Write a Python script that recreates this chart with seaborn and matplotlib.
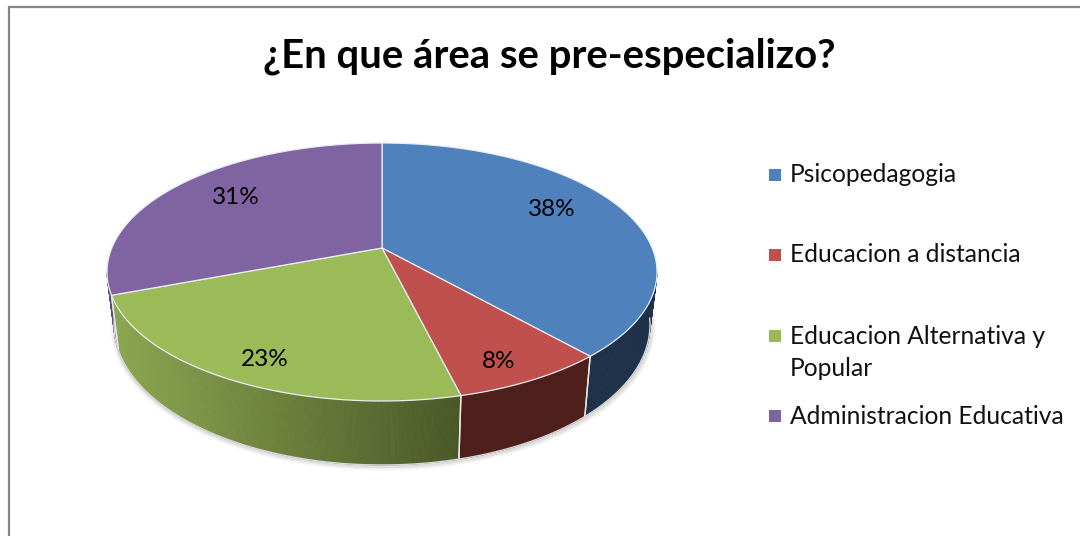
import numpy as np
import matplotlib
matplotlib.use("Agg")
import matplotlib.pyplot as plt
from matplotlib.colors import to_rgb
import seaborn as sns

title = "¿En que área se pre-especializo?"
categories = ["Psicopedagogia", "Educacion a distancia", "Educacion Alternativa y", "Administracion Educativa"]
category_extra_line = "Popular"
values = [10, 2, 6, 8]
top_colors = ["#4f81bd", "#c0504d", "#9bbb59", "#8064a2"]
wall_left = ["#1d3149", "#4f1f1c", "#8ba550", "#5e4a7c"]
wall_right = ["#1d3149", "#4f1f1c", "#4a5827", "#5e4a7c"]
label_xy = [(552, 209), (499, 361), (265, 359), (236, 197)]
legend_y = [175, 255, 336, 416]
extra_line_y = 368

sns.set_theme(style="white")
plt.rcParams["font.family"] = ["Lato", "DejaVu Sans"]
palette = sns.color_palette(top_colors)

fig = plt.figure(figsize=(10.8, 5.36), dpi=100, facecolor="white")
ax = fig.add_axes([0, 0, 1, 1])
ax.set_xlim(0, 1080)
ax.set_ylim(536, 0)
ax.axis("off")

# Top ellipse, bottom ellipse and perspective apex (px)
CX, CY, RX, RY = 382, 272, 275, 129
BY, BRX, BRY = 325, 268, 140
A = -24 / 129


def top_uv(theta):
    x, y = np.sin(theta), -np.cos(theta)
    d = 1 + A * y
    return x * np.sqrt(1 - A ** 2) / d, (y + A) / d


def top_xy(theta):
    u, v = top_uv(theta)
    return CX + RX * u, CY + RY * v


def uv_phi(theta):
    u, v = top_uv(theta)
    return np.arctan2(v, u)


edges = np.cumsum([0] + values) / sum(values) * 2 * np.pi

# soft shadow below the wall
ph = np.linspace(-0.05, np.pi + 0.05, 300)
for lw, al in [(7, 0.04), (5, 0.06), (3, 0.10)]:
    ax.plot(CX + BRX * np.cos(ph) + 1, BY + BRY * np.sin(ph) + 1, color="#555555", lw=lw, alpha=al, zorder=1)

# side walls
for i in range(len(values)):
    t0, t1 = edges[i], edges[i + 1]
    ts = np.linspace(t0, t1, 220)
    phis = uv_phi(ts)
    phis = np.where(phis < -np.pi / 2, phis + 2 * np.pi, phis)
    vis = (phis >= 0) & (phis <= np.pi)
    ts, phis = ts[vis], np.sort(phis[vis])
    if len(phis) < 2:
        continue
    c0, c1 = np.array(to_rgb(wall_left[i])), np.array(to_rgb(wall_right[i]))
    for a, b in zip(phis[:-1], phis[1:]):
        xt = CX + RX * np.cos([a, b])
        yt = CY + RY * np.sin([a, b])
        xb = CX + (BRX / RX) * (xt - CX)
        yb = BY + BRY * np.sin([a, b])
        f = np.clip((xt.mean() - 115) / (458 - 115), 0, 1)
        col = c0 + (c1 - c0) * f
        ax.fill([xt[0], xt[1], xb[1], xb[0]], [yt[0], yt[1], yb[1], yb[0]],
                facecolor=col, edgecolor=col, lw=0.6, zorder=2)
    # separators between walls
    for p in (phis[0], phis[-1]):
        if 0.02 < p < np.pi - 0.02:
            ax.plot([CX + RX * np.cos(p), CX + BRX * np.cos(p)],
                    [CY + RY * np.sin(p), BY + BRY * np.sin(p)],
                    color="#e6e6e6", lw=1.0, zorder=3)

# wall outer edge
ax.plot(CX + BRX * np.cos(ph), BY + BRY * np.sin(ph), color="#d9d9d9", lw=1.0, zorder=3)

# top faces
for i in range(len(values)):
    ts = np.linspace(edges[i], edges[i + 1], 200)
    x, y = top_xy(ts)
    cx, cy = CX, CY + RY * A
    ax.fill(np.r_[cx, x], np.r_[cy, y], facecolor=palette[i], edgecolor="#e9edf2", lw=0.9, zorder=4, joinstyle="round")

# percentage labels
for v, (lx, ly) in zip(values, label_xy):
    ax.text(lx, ly, f"{round(100 * v / sum(values))}%", ha="center", va="center",
            fontsize=17.5, color="black", zorder=6)

# title
ax.text(549.5, 56, title, ha="center", va="center", fontsize=28.8, fontweight="bold", color="black")

# legend
marker_y = [175, 255, 336, 416]
for name, col, ly, my in zip(categories, palette, legend_y, marker_y):
    ax.scatter([775], [my], marker="s", s=78, color=col, edgecolor="none", zorder=6)
    ax.text(790, ly, name, ha="left", va="center", fontsize=17.7, color="#111111")
ax.text(790, extra_line_y, category_extra_line, ha="left", va="center", fontsize=17.7, color="#111111")

# chart frame (bottom and right are cropped)
ax.plot([9, 9, 1080], [536, 6.5, 6.5], color="#858585", lw=1.6, zorder=7, solid_joinstyle="miter")

fig.savefig("out.png", dpi=100, facecolor="white")
